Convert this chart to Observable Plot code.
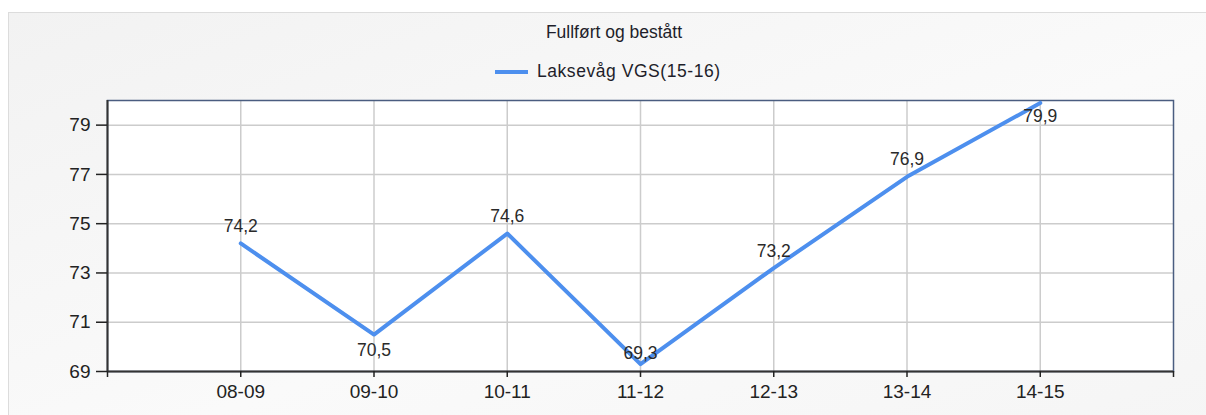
<!DOCTYPE html>
<html><head><meta charset="utf-8">
<script src="https://cdn.jsdelivr.net/npm/d3@7"></script>
<script src="https://cdn.jsdelivr.net/npm/@observablehq/plot@0.6"></script>
<style>
body{margin:0;background:#fff;font-family:"Liberation Sans",Arial,sans-serif;}
#wrap{position:relative;width:1206px;height:415px;overflow:hidden;}
#panel{position:absolute;left:8px;top:12px;width:1220px;height:420px;border-top:1px solid #dcdcdc;border-left:1px solid #dcdcdc;background:linear-gradient(160deg,#f2f2f2,#fafafa 55%,#f5f5f5);}
#title{position:absolute;left:0;top:22px;width:1228px;text-align:center;font-size:17.5px;color:#1e1e2a;}
#legend{position:absolute;top:61px;left:495px;display:flex;align-items:center;font-size:17.5px;letter-spacing:0.55px;color:#1e1e2a;}
.swatch{display:inline-block;width:33px;height:4px;background:#4d8fee;margin-right:9px;}
#chart{position:absolute;left:0;top:80px;}
</style></head>
<body><div id="wrap"><div id="panel"></div><div id="title"></div><div id="legend"><span class="swatch"></span><span id="ltext"></span></div><div id="chart"></div></div>
<script>
const categories = ["08-09","09-10","10-11","11-12","12-13","13-14","14-15"];
const values = [74.2, 70.5, 74.6, 69.3, 73.2, 76.9, 79.9];
const yTicks = [69, 71, 73, 75, 77, 79];
const seriesName = "Laksevåg VGS(15-16)";
const titleText = "Fullført og bestått";

document.getElementById("title").textContent = titleText;
document.getElementById("ltext").textContent = seriesName;

const data = categories.map((c, i) => ({i: i + 1, cat: c, v: values[i]}));
const fmt = v => v.toFixed(1).replace(".", ",");
// label placement (styling, not data)
const below = new Set(["09-10"]);
const belowTop = new Set(["14-15"]);
const nearAxis = new Set(["11-12"]);
const above = d => !below.has(d.cat) && !belowTop.has(d.cat) && !nearAxis.has(d.cat);
const lineColor = "#4d8fee";
const textStyle = {fontSize: 17.5, fill: "#2a2a2a"};

const chart = Plot.plot({
  width: 1206,
  height: 335,
  marginLeft: 107,
  marginRight: 33,
  marginTop: 20,
  marginBottom: 44,
  style: {fontFamily: "'Liberation Sans', Arial, sans-serif", background: "transparent"},
  x: {type: "linear", domain: [0, 8], axis: null},
  y: {domain: [69, 80], axis: null},
  marks: [
    Plot.frame({fill: "white", stroke: "none"}),
    Plot.gridY(yTicks.slice(1), {stroke: "#cccccc", strokeOpacity: 1, strokeWidth: 1.5}),
    Plot.gridX(d3.range(1, categories.length + 1), {stroke: "#cccccc", strokeOpacity: 1, strokeWidth: 1.5}),
    Plot.frame({stroke: "#4a5d80", strokeWidth: 1.5}),
    Plot.ruleX([0], {stroke: "#333", strokeWidth: 2}),
    Plot.ruleY([69], {stroke: "#333", strokeWidth: 2}),
    Plot.axisY(yTicks, {tickSize: 11, tickPadding: 6, fontSize: 19, color: "#222", strokeWidth: 1.5, label: null}),
    Plot.axisX(d3.range(0, categories.length + 2), {tickSize: 6, tickPadding: 7, fontSize: 19, color: "#222", strokeWidth: 1.5, label: null,
      tickFormat: d => categories[d - 1] ?? ""}),
    Plot.line(data, {x: "i", y: "v", stroke: lineColor, strokeWidth: 4}),
    Plot.text(data.filter(above), {x: "i", y: "v", text: d => fmt(d.v), dy: -17, ...textStyle}),
    Plot.text(data.filter(d => below.has(d.cat)), {x: "i", y: "v", text: d => fmt(d.v), dy: 16, ...textStyle}),
    Plot.text(data.filter(d => belowTop.has(d.cat)), {x: "i", y: "v", text: d => fmt(d.v), dy: 13, ...textStyle}),
    Plot.text(data.filter(d => nearAxis.has(d.cat)), {x: "i", y: "v", text: d => fmt(d.v), dy: -11, ...textStyle})
  ]
});
document.getElementById("chart").appendChild(chart);
</script>
</body></html>
